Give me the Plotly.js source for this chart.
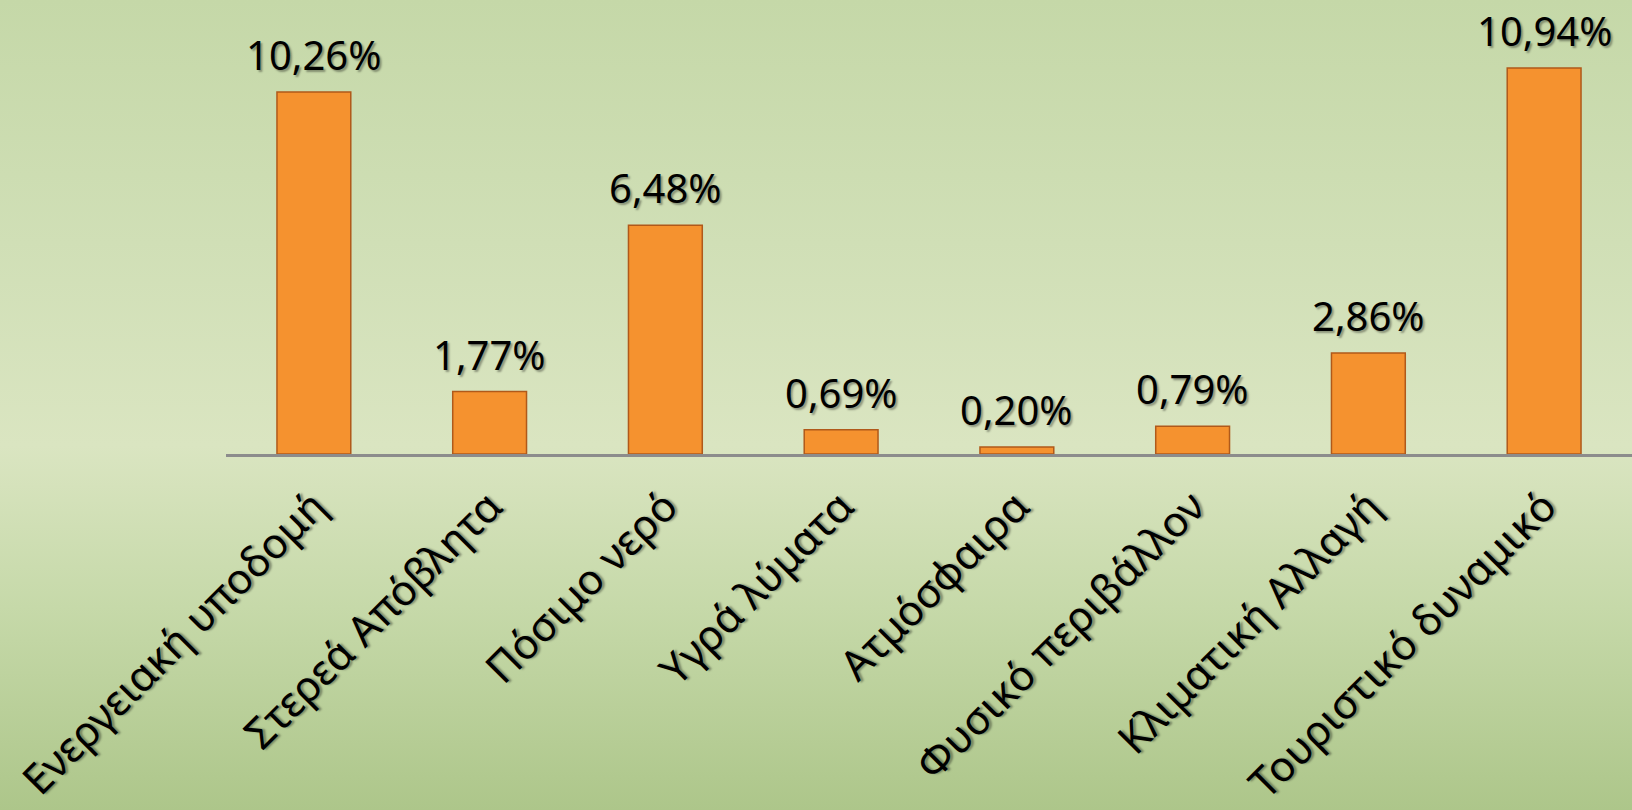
<!DOCTYPE html>
<html>
<head>
<meta charset="utf-8">
<script src="https://cdn.plot.ly/plotly-3.0.1.min.js"></script>
<style>
html,body{margin:0;padding:0;}
body{width:1632px;height:810px;overflow:hidden;
background:linear-gradient(to bottom,#c5d8a8 0%,#d0dfb6 30%,#dae5c1 55%,#c6d9a9 75%,#adc68a 100%);}
#chart{width:1632px;height:810px;}
</style>
</head>
<body>
<div id="chart"></div>
<script>
const categories = ["Ενεργειακή υποδομή","Στερεά Απόβλητα","Πόσιμο νερό","Υγρά λύματα","Ατμόσφαιρα","Φυσικό περιβάλλον","Κλιματική Αλλαγή","Τουριστικό δυναμικό"];
const values = [10.26, 1.77, 6.48, 0.69, 0.20, 0.79, 2.86, 10.94];
const labels = ["10,26%","1,77%","6,48%","0,69%","0,20%","0,79%","2,86%","10,94%"];

const fontFam = "'Noto Sans', 'Open Sans', sans-serif";
const shadow = "2px 2px 2px rgba(0,0,0,0.35)";

const trace = {
  type: 'bar',
  x: categories,
  y: values,
  marker: {color: '#f5922f', line: {color: '#b0591a', width: 1.5}},
  hoverinfo: 'none'
};

const annotations = categories.map((c, i) => ({
  x: c, y: values[i], text: labels[i],
  xref: 'x', yref: 'y', showarrow: false,
  yanchor: 'bottom', yshift: 8,
  font: {family: fontFam, size: 40, color: '#000', shadow: shadow}
}));

const layout = {
  width: 1632, height: 810,
  margin: {l: 226, r: 0, t: 50, b: 356, pad: 0},
  paper_bgcolor: 'rgba(0,0,0,0)',
  plot_bgcolor: 'rgba(0,0,0,0)',
  bargap: 0.58,
  showlegend: false,
  xaxis: {
    type: 'category',
    showline: true, linecolor: '#8c8c8c', linewidth: 3,
    ticks: '', showgrid: false, zeroline: false,
    tickangle: -45,
    ticklabelstandoff: 8,
    tickfont: {family: fontFam, size: 42, color: '#000', shadow: shadow}
  },
  yaxis: {
    range: [0, 11.45], visible: false, showgrid: false, zeroline: false, fixedrange: true
  },
  annotations: annotations
};

Plotly.newPlot('chart', [trace], layout, {staticPlot: true, displayModeBar: false});
</script>
</body>
</html>
